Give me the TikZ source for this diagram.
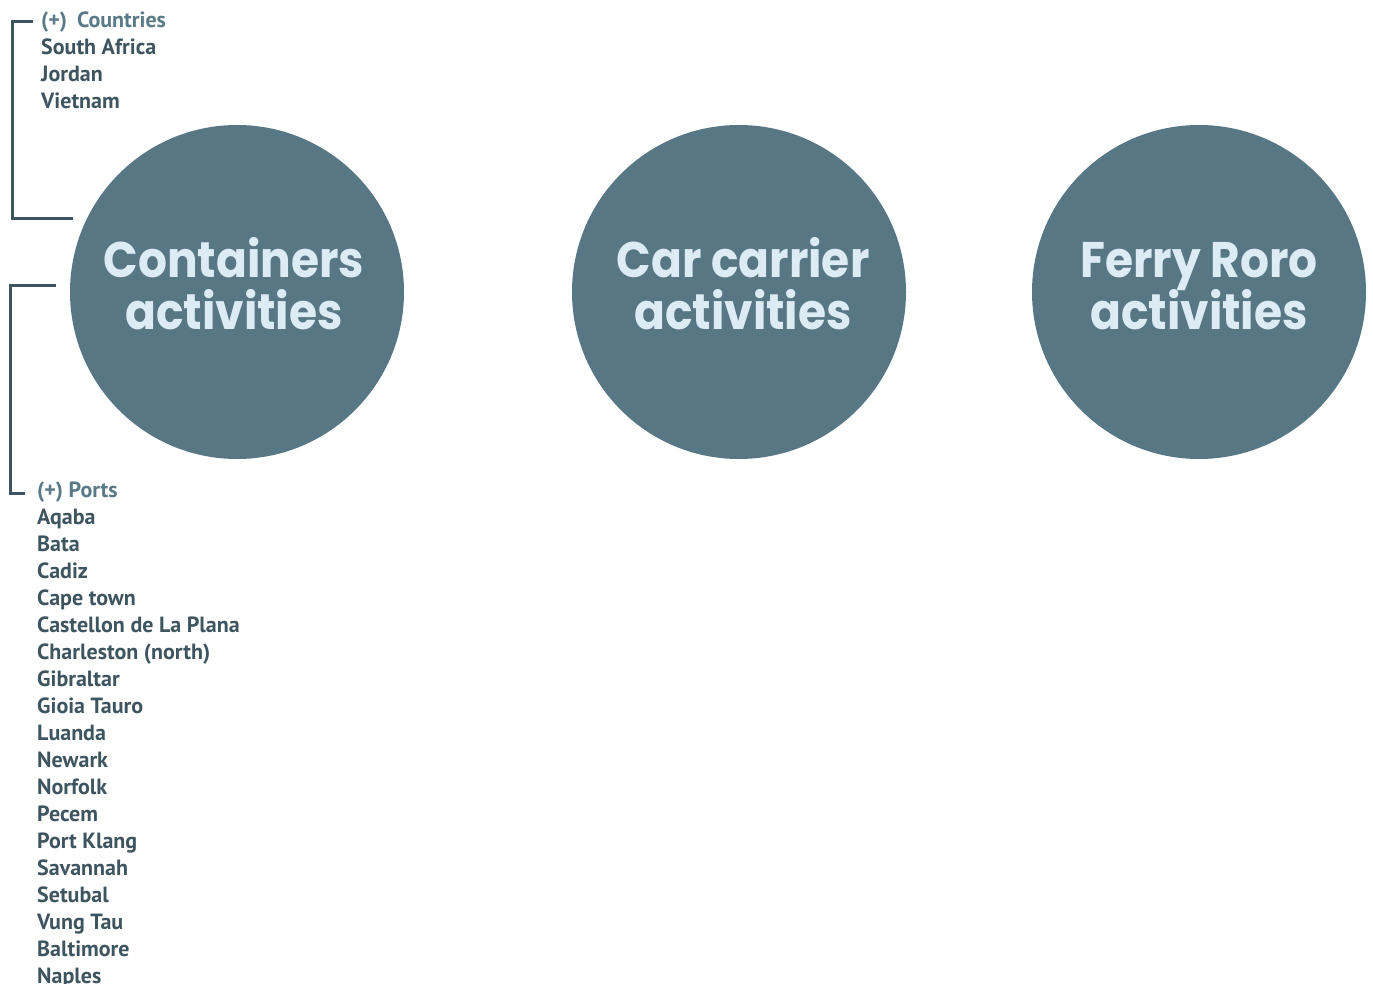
\documentclass[tikz,border=0pt]{standalone}
\usepackage{fontspec}
\usepackage{graphicx}
\setmainfont{PT Sans}
\newfontfamily\circfont{Poppins}[UprightFont=* Bold]
\definecolor{circfill}{HTML}{587784}
\definecolor{circtext}{HTML}{DDEBF4}
\definecolor{bracketcol}{HTML}{3F5560}
\definecolor{headcol}{HTML}{5A7A88}
\definecolor{itemcol}{HTML}{3E5560}
\newcommand{\narrowtxt}[1]{\scalebox{0.91}[1]{#1}}
\tikzset{
  act/.style={circle, fill=circfill, minimum size=334pt, inner sep=0pt},
  acttext/.style={text=circtext, font=\circfont\fontsize{50}{52}\selectfont, inner sep=0pt, anchor=base},
  bracket/.style={draw=bracketcol, line width=3pt},
  head/.style={anchor=base west, inner sep=0pt, text=headcol, font=\bfseries\fontsize{22}{27}\selectfont},
  item/.style={anchor=base west, inner sep=0pt, text=itemcol, font=\bfseries\fontsize{22}{27}\selectfont}
}
\begin{document}
\begin{tikzpicture}[x=1pt,y=-1pt]
\useasboundingbox (0,0) rectangle (1373,984);
\fill[white] (0,0) rectangle (1373,984);
% circles
\node[act] (c1) at (237,292) {};
\node[act] (c2) at (739,292) {};
\node[act] (c3) at (1199,292) {};
\node[acttext] (t1a) at (234,278) {\narrowtxt{Containers}};
\node[acttext] (t1b) at (234,330) {\narrowtxt{activities}};
\node[acttext] (t2a) at (743,278) {\narrowtxt{Car carrier}};
\node[acttext] (t2b) at (743,330) {\narrowtxt{activities}};
\node[acttext] (t3a) at (1199,278) {\narrowtxt{Ferry Roro}};
\node[acttext] (t3b) at (1199,330) {\narrowtxt{activities}};
% countries
\node[head] (ch) at (41,28) {(+)\hspace{0.45em}Countries};
\node[item] (n1) at (41,55) {South Africa};
\node[item] (n2) at (41,82) {Jordan};
\node[item] (n3) at (41,109) {Vietnam};
\coordinate (b1a) at (33,22);
\coordinate (b1b) at (12,22);
\coordinate (b1c) at (12,219);
\coordinate (b1d) at (73,219);
\draw[bracket] (b1a) -- (b1b) -- (b1c) -- (b1d);
% ports
\coordinate (b2a) at (56,286);
\coordinate (b2b) at (10,286);
\coordinate (b2c) at (10,493);
\coordinate (b2d) at (25,493);
\draw[bracket] (b2a) -- (b2b) -- (b2c) -- (b2d);
\node[head] (ph) at (37,497) {(+) Ports};
\foreach \name [count=\k] in {Aqaba,Bata,Cadiz,Cape town,Castellon de La Plana,Charleston (north),Gibraltar,Gioia Tauro,Luanda,Newark,Norfolk,Pecem,Port Klang,Savannah,Setubal,Vung Tau,Baltimore,Naples}{
  \node[item] (p\k) at (37,{497+27*\k}) {\name};
}
\end{tikzpicture}
\end{document}
